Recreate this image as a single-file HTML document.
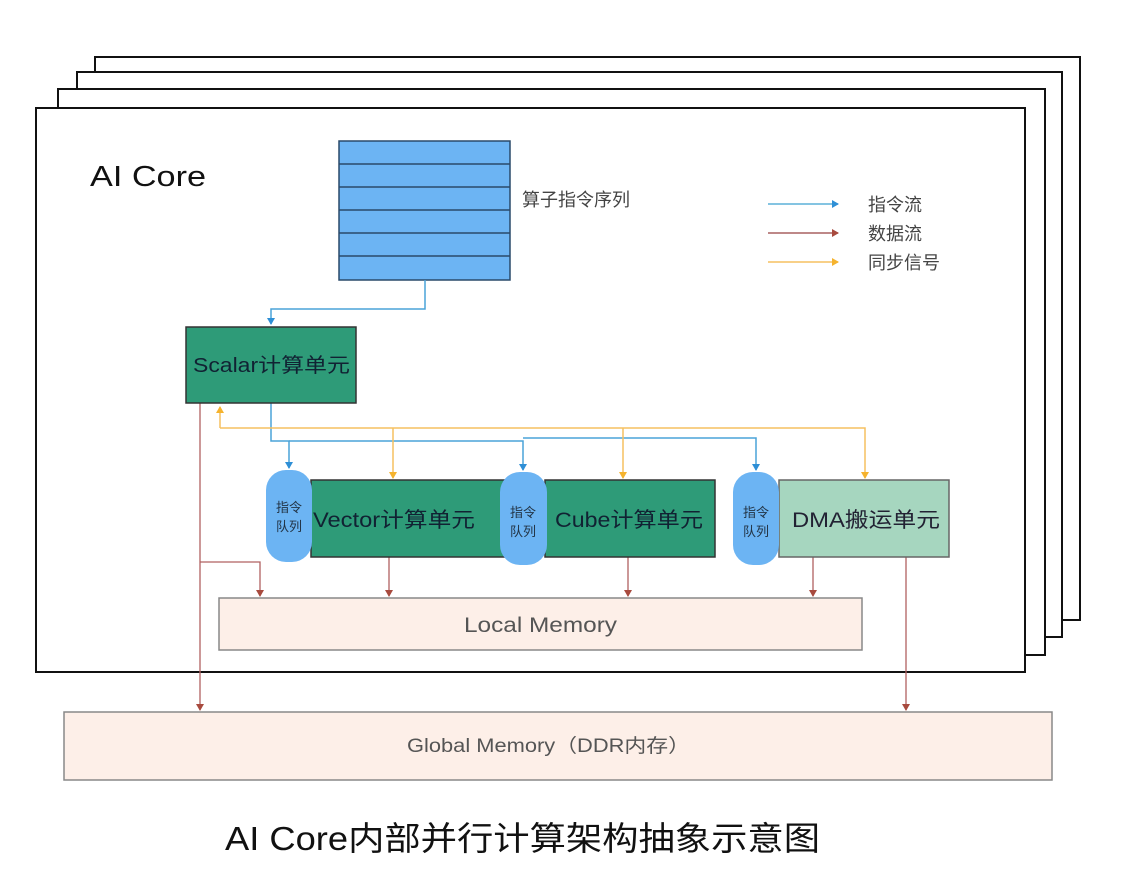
<!DOCTYPE html>
<html><head><meta charset="utf-8"><style>
html,body{margin:0;padding:0;background:#fff;}
svg{display:block;font-family:"Liberation Sans","Noto Sans CJK SC",sans-serif;}
</style></head><body>
<svg width="1133" height="884" viewBox="0 0 1133 884" xmlns="http://www.w3.org/2000/svg">
<defs>
<marker id="ab" markerWidth="8" markerHeight="8" refX="6" refY="4" orient="auto" markerUnits="userSpaceOnUse"><path d="M0,0 L7,4 L0,8z" fill="#2e8fd6"/></marker>
<marker id="ar" markerWidth="8" markerHeight="8" refX="6" refY="4" orient="auto" markerUnits="userSpaceOnUse"><path d="M0,0 L7,4 L0,8z" fill="#a84a3e"/></marker>
<marker id="ay" markerWidth="8" markerHeight="8" refX="6" refY="4" orient="auto" markerUnits="userSpaceOnUse"><path d="M0,0 L7,4 L0,8z" fill="#f5b32e"/></marker>
</defs>
<rect x="95" y="57" width="985" height="563" fill="#fff" stroke="#111" stroke-width="2"/>
<rect x="77" y="72" width="985" height="565" fill="#fff" stroke="#111" stroke-width="2"/>
<rect x="58" y="89" width="987" height="566" fill="#fff" stroke="#111" stroke-width="2"/>
<rect x="36" y="108" width="989" height="564" fill="#fff" stroke="#111" stroke-width="2"/>
<text x="90" y="186" font-size="29" fill="#111" textLength="116" lengthAdjust="spacingAndGlyphs">AI Core</text>

<rect x="339" y="141" width="171" height="139" fill="#6cb4f3" stroke="#2a4a6a" stroke-width="1.5"/>
<g stroke="#2a4a6a" stroke-width="1.5"><line x1="339" y1="164" x2="510" y2="164"/><line x1="339" y1="187" x2="510" y2="187"/><line x1="339" y1="210" x2="510" y2="210"/><line x1="339" y1="233" x2="510" y2="233"/><line x1="339" y1="256" x2="510" y2="256"/></g>
<text x="522" y="206" font-size="18" fill="#444">算子指令序列</text>

<line x1="768" y1="204" x2="838" y2="204" stroke="#5bb0d8" stroke-width="1.5" marker-end="url(#ab)"/>
<line x1="768" y1="233" x2="838" y2="233" stroke="#a86060" stroke-width="1.5" marker-end="url(#ar)"/>
<line x1="768" y1="262" x2="838" y2="262" stroke="#f5c060" stroke-width="1.5" marker-end="url(#ay)"/>
<text x="868" y="211" font-size="18" fill="#444">指令流</text>
<text x="868" y="240" font-size="18" fill="#444">数据流</text>
<text x="868" y="269" font-size="18" fill="#444">同步信号</text>

<g fill="none" stroke="#4aa3d8" stroke-width="1.5">
<path d="M425,280 V309 H271 V324" marker-end="url(#ab)"/>
<path d="M271,403 V441 H289 V468" marker-end="url(#ab)"/>
<path d="M289,441 H523 V470" marker-end="url(#ab)"/>
<path d="M523,438 H756 V470" marker-end="url(#ab)"/>
</g>
<g fill="none" stroke="#f5c060" stroke-width="1.5">
<path d="M220,428 V407" marker-end="url(#ay)"/>
<path d="M220,428 H865 V478" marker-end="url(#ay)"/>
<path d="M393,428 V478" marker-end="url(#ay)"/>
<path d="M623,428 V478" marker-end="url(#ay)"/>
</g>
<g fill="none" stroke="#b06060" stroke-width="1.3">
<path d="M200,403 V710" marker-end="url(#ar)"/>
<path d="M200,562 H260 V596" marker-end="url(#ar)"/>
<path d="M389,557 V596" marker-end="url(#ar)"/>
<path d="M628,557 V596" marker-end="url(#ar)"/>
<path d="M813,557 V596" marker-end="url(#ar)"/>
<path d="M906,557 V710" marker-end="url(#ar)"/>
</g>

<rect x="186" y="327" width="170" height="76" fill="#2e9b78" stroke="#333" stroke-width="1.5"/>
<text x="193" y="372" font-size="20" fill="#123" textLength="157" lengthAdjust="spacingAndGlyphs">Scalar计算单元</text>

<rect x="311" y="480" width="194" height="77" fill="#2e9b78" stroke="#333" stroke-width="1.5"/>
<rect x="266" y="470" width="46" height="92" rx="20" fill="#6cb4f3"/>
<text x="289" y="512" font-size="13" fill="#234" text-anchor="middle">指令</text>
<text x="289" y="531" font-size="13" fill="#234" text-anchor="middle">队列</text>
<text x="313" y="527" font-size="21" fill="#123" textLength="162" lengthAdjust="spacingAndGlyphs">Vector计算单元</text>

<rect x="545" y="480" width="170" height="77" fill="#2e9b78" stroke="#333" stroke-width="1.5"/>
<rect x="500" y="472" width="47" height="93" rx="20" fill="#6cb4f3"/>
<text x="523" y="517" font-size="13" fill="#234" text-anchor="middle">指令</text>
<text x="523" y="536" font-size="13" fill="#234" text-anchor="middle">队列</text>
<text x="555" y="527" font-size="21" fill="#123" textLength="148" lengthAdjust="spacingAndGlyphs">Cube计算单元</text>

<rect x="779" y="480" width="170" height="77" fill="#a6d6bf" stroke="#666" stroke-width="1.5"/>
<rect x="733" y="472" width="46" height="93" rx="20" fill="#6cb4f3"/>
<text x="756" y="517" font-size="13" fill="#234" text-anchor="middle">指令</text>
<text x="756" y="536" font-size="13" fill="#234" text-anchor="middle">队列</text>
<text x="792" y="527" font-size="21" fill="#223" textLength="148" lengthAdjust="spacingAndGlyphs">DMA搬运单元</text>

<rect x="219" y="598" width="643" height="52" fill="#fdefe8" stroke="#888" stroke-width="1.5"/>
<text x="464" y="632" font-size="21" fill="#555" textLength="153" lengthAdjust="spacingAndGlyphs">Local Memory</text>
<rect x="64" y="712" width="988" height="68" fill="#fdefe8" stroke="#888" stroke-width="1.5"/>
<text x="407" y="752" font-size="19" fill="#555" textLength="283" lengthAdjust="spacingAndGlyphs">Global Memory（DDR内存）</text>

<text x="225" y="850" font-size="33" fill="#111" textLength="595" lengthAdjust="spacingAndGlyphs">AI Core内部并行计算架构抽象示意图</text>
</svg>
</body></html>
